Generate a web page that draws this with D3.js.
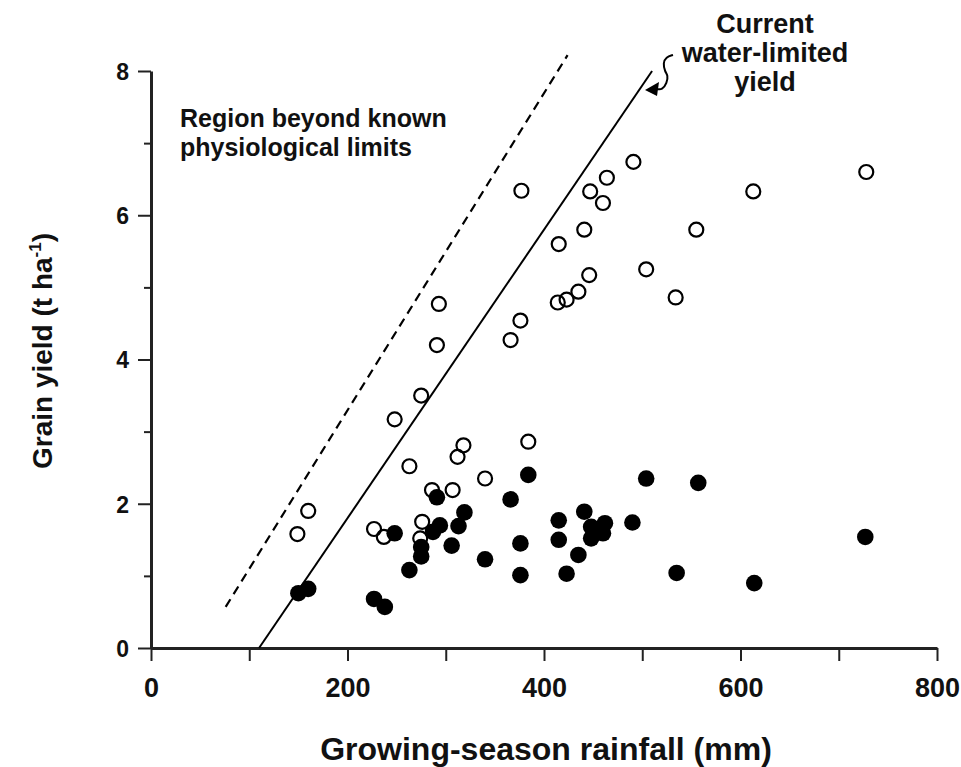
<!DOCTYPE html>
<html>
<head>
<meta charset="utf-8">
<script src="https://cdn.jsdelivr.net/npm/d3@7"></script>
<style>
    body { margin: 0; background: #fff; }
    text { font-family: "Liberation Sans", Arial, sans-serif; font-weight: bold; fill: #111; }
</style>
</head>
<body>
<div id="chart"></div>
<script>

// open circles: rainfall (mm), yield (t/ha)
const openRain  = [149, 160, 227, 237, 248, 263, 275, 274, 276, 286, 291, 293, 307, 312, 318, 340, 366, 376,
                   377, 384, 414, 415, 423, 435, 441, 446, 447, 460, 464, 491, 504, 534, 555, 613, 728];
const openYield = [1.58, 1.90, 1.65, 1.54, 3.17, 2.52, 3.50, 1.52, 1.75, 2.19, 4.20, 4.77, 2.19, 2.65, 2.81, 2.35, 4.27, 4.54,
                   6.34, 2.86, 4.79, 5.60, 4.83, 4.94, 5.80, 5.17, 6.33, 6.17, 6.52, 6.74, 5.25, 4.86, 5.80, 6.33, 6.60];

// filled circles
const fillRain  = [150, 160, 227, 238, 248, 263, 275, 275, 287, 291, 294, 306, 313, 319, 340, 366, 376, 376,
                   384, 415, 415, 423, 435, 441, 448, 448, 460, 462, 490, 504, 535, 557, 614, 727];
const fillYield = [0.76, 0.82, 0.68, 0.57, 1.59, 1.08, 1.40, 1.27, 1.61, 2.09, 1.70, 1.42, 1.69, 1.88, 1.23, 2.06, 1.45, 1.01,
                   2.40, 1.77, 1.50, 1.03, 1.29, 1.89, 1.68, 1.52, 1.59, 1.73, 1.74, 2.35, 1.04, 2.29, 0.90, 1.54];

// boundary lines (rainfall, yield)
const waterLimited = [[110, 0], [510, 8]];
const physioLimit  = [[76, 0.57], [424, 8.22]];

const xMajor = [0, 200, 400, 600, 800];
const xMinor = [100, 300, 500, 700];
const yMajor = [0, 2, 4, 6, 8];
const yMinor = [1, 3, 5, 7];

const canvas = {width: 961, height: 767};
const margin = {top: 71, right: 24, bottom: 119, left: 151};
const width = canvas.width - margin.left - margin.right;
const height = canvas.height - margin.top - margin.bottom;

const svg = d3.select("#chart").append("svg")
    .attr("width", canvas.width)
    .attr("height", canvas.height);

const g = svg.append("g")
    .attr("transform", "translate(" + margin.left + "," + margin.top + ")");

const x = d3.scaleLinear().domain([0, 800]).range([0, width]);
const y = d3.scaleLinear().domain([0, 8]).range([height, 0]);

// axes
const xAxis = g.append("g").attr("transform", "translate(0," + height + ")")
    .call(d3.axisBottom(x).tickValues(xMajor.concat(xMinor)).tickSize(13).tickSizeOuter(0).tickFormat(""));
xAxis.append("g")
    .call(d3.axisBottom(x).tickValues(xMajor).tickSize(0).tickFormat(d3.format("d")))
    .call(a => a.select(".domain").remove())
    .selectAll("text")
    .attr("y", 49)
    .attr("dy", 0)
    .style("font-size", "27px");

const yAxis = g.append("g")
    .call(d3.axisLeft(y).tickValues(yMajor).tickSize(13).tickSizeOuter(0).tickPadding(9));
yAxis.selectAll("text").style("font-size", "23px").attr("dy", "0.36em");
g.append("g")
    .call(d3.axisLeft(y).tickValues(yMinor).tickSize(7).tickFormat(""))
    .call(a => a.select(".domain").remove());

g.selectAll(".domain").attr("stroke", "#222").attr("stroke-width", 3);
g.selectAll(".tick line").attr("stroke", "#222").attr("stroke-width", 2);

// boundary lines
const line = d3.line().x(d => x(d[0])).y(d => y(d[1]));
g.append("path").datum(waterLimited)
    .attr("d", line).attr("fill", "none").attr("stroke", "#000").attr("stroke-width", 2);
g.append("path").datum(physioLimit)
    .attr("d", line).attr("fill", "none").attr("stroke", "#000").attr("stroke-width", 2.2)
    .attr("stroke-dasharray", "9,6");

// points
g.append("g").selectAll("circle")
    .data(d3.zip(fillRain, fillYield))
    .enter().append("circle")
    .attr("cx", d => x(d[0]))
    .attr("cy", d => y(d[1]))
    .attr("r", 8.3)
    .attr("fill", "#000");

g.append("g").selectAll("circle")
    .data(d3.zip(openRain, openYield))
    .enter().append("circle")
    .attr("cx", d => x(d[0]))
    .attr("cy", d => y(d[1]))
    .attr("r", 7)
    .attr("fill", "none")
    .attr("stroke", "#000")
    .attr("stroke-width", 2.2);

// annotations
g.append("text")
    .style("font-size", "25px")
    .selectAll("tspan")
    .data(["Region beyond known", "physiological limits"])
    .enter().append("tspan")
    .attr("x", 29)
    .attr("y", (d, i) => 56 + i * 29)
    .text(d => d);

g.append("text")
    .attr("text-anchor", "middle")
    .style("font-size", "27px")
    .selectAll("tspan")
    .data(["Current", "water-limited", "yield"])
    .enter().append("tspan")
    .attr("x", 614)
    .attr("y", (d, i) => -38 + i * 29)
    .text(d => d);

// squiggle leader + arrow head pointing to the water-limited line
const lead = [[522, -16], [515, -14], [512, -8], [514, 1], [517, 4], [516, 12], [511, 19], [506, 18]];
g.append("path")
    .attr("d", d3.line().curve(d3.curveBasis)(lead))
    .attr("fill", "none").attr("stroke", "#000").attr("stroke-width", 2);
g.append("path")
    .attr("d", "M494,19 L508,11 L506,25 Z")
    .attr("fill", "#000");

// axis titles
svg.append("text")
    .attr("x", 546).attr("y", 760)
    .attr("text-anchor", "middle")
    .style("font-size", "32px")
    .text("Growing-season rainfall (mm)");

const yTitle = svg.append("text")
    .attr("transform", "translate(52,351) rotate(-90)")
    .attr("text-anchor", "middle")
    .style("font-size", "28px");
yTitle.append("tspan").text("Grain yield (t ha");
yTitle.append("tspan").attr("dy", -11).style("font-size", "17px").text("-1");
yTitle.append("tspan").attr("dy", 11).text(")");

</script>
</body>
</html>
